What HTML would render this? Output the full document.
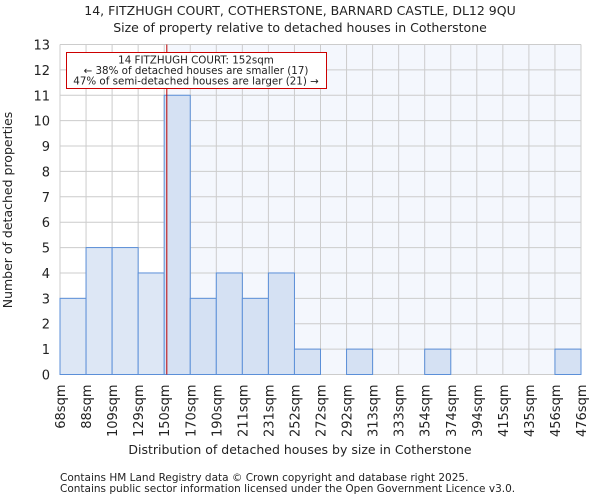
<!DOCTYPE html>
<html><head><meta charset="utf-8"><style>
body{margin:0;background:#fff;font-family:"DejaVu Sans","Liberation Sans",sans-serif;}
text{font-family:"DejaVu Sans","Liberation Sans",sans-serif;fill:#222;}
</style></head><body>
<svg id="c" width="600" height="500" xmlns="http://www.w3.org/2000/svg">
<text x="300" y="15" text-anchor="middle" font-size="12.5">14, FITZHUGH COURT, COTHERSTONE, BARNARD CASTLE, DL12 9QU</text>
<text x="300" y="32" text-anchor="middle" font-size="12.5">Size of property relative to detached houses in Cotherstone</text>
<g id="plot"></g>
<text x="300" y="454" text-anchor="middle" font-size="12.5">Distribution of detached houses by size in Cotherstone</text>
<text transform="translate(12,210) rotate(-90)" text-anchor="middle" font-size="12.5">Number of detached properties</text>
<text x="60" y="481" font-size="10.5" fill="#444">Contains HM Land Registry data © Crown copyright and database right 2025.</text>
<text x="60" y="492" font-size="10.5" fill="#444">Contains public sector information licensed under the Open Government Licence v3.0.</text>
</svg>
<script>
const binLabels=["68sqm","88sqm","109sqm","129sqm","150sqm","170sqm","190sqm","211sqm","231sqm","252sqm","272sqm","292sqm","313sqm","333sqm","354sqm","374sqm","394sqm","415sqm","435sqm","456sqm","476sqm"];
const binEdges=[68,88,109,129,150,170,190,211,231,252,272,292,313,333,354,374,394,415,435,456,476];
const counts=[3,5,5,4,11,3,4,3,4,1,0,1,0,0,1,0,0,0,0,1];
const yTicks=[0,1,2,3,4,5,6,7,8,9,10,11,12,13];
const propertySize=152;
const NS="http://www.w3.org/2000/svg";
const X0=60,X1=581,Y0=374.5,Y1=44.5,yMax=13;
const n=counts.length,bw=(X1-X0)/n;
const xi=i=>X0+i*bw;
const y=v=>Y0-(v/yMax)*(Y0-Y1);
function xv(v){for(let i=0;i<binEdges.length-1;i++){if(v<=binEdges[i+1])return xi(i)+(v-binEdges[i])/(binEdges[i+1]-binEdges[i])*bw;}return X1;}
const g=document.getElementById('plot');
function mk(t,a){const e=document.createElementNS(NS,t);for(const k in a)e.setAttribute(k,a[k]);g.appendChild(e);return e;}
const lx=xv(propertySize);
let e=mk('rect',{x:lx,y:Y1,width:X1-lx,height:Y0-Y1,fill:'#f4f7fd'});


yTicks.forEach(t=>{let l=mk('line',{x1:X0,x2:X1,y1:y(t),y2:y(t),stroke:'#ccc','stroke-width':1});


let tx=mk('text',{x:X0-10,y:y(t)+5,'text-anchor':'end','font-size':13});tx.textContent=t;

});
binLabels.forEach((s,i)=>{let l=mk('line',{x1:xi(i),x2:xi(i),y1:Y1,y2:Y0,stroke:'#ccc','stroke-width':1});


let tx=mk('text',{transform:`translate(${xi(i)+5},${Y0+10}) rotate(-90)`,'text-anchor':'end','font-size':13});tx.textContent=s;

});
counts.forEach((c,i)=>{if(c<=0)return;const left=binEdges[i+1]<=propertySize;
let r=mk('rect',{x:xi(i),y:y(c),width:bw,height:Y0-y(c),fill:left?'#dde7f5':'#d5e1f3',stroke:'#5b8fd8','stroke-width':1});

});
e=mk('line',{x1:lx,x2:lx,y1:Y1,y2:Y0,stroke:'#b00','stroke-width':1});


e=mk('rect',{x:66.5,y:52.5,width:260,height:36,fill:'#fff',stroke:'#c00','stroke-width':1});


["14 FITZHUGH COURT: 152sqm","← 38% of detached houses are smaller (17)","47% of semi-detached houses are larger (21) →"].forEach((s,k)=>{
let t=mk('text',{x:196,y:63.5+k*10.5,'text-anchor':'middle','font-size':10.3});t.textContent=s;

});
</script>
</body></html>
